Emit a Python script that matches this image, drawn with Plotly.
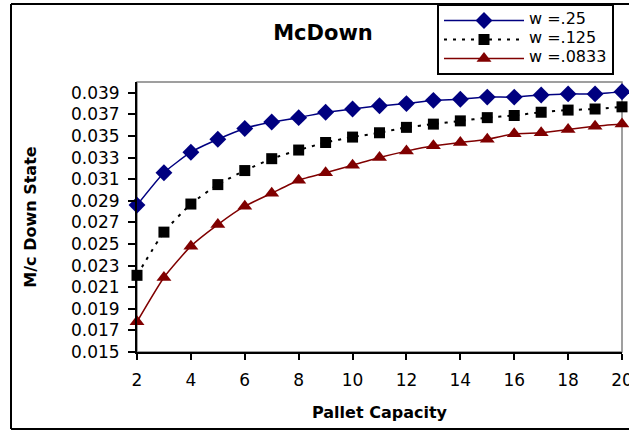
import plotly.graph_objects as go

capacity = list(range(2, 21))
w_025 = [0.0286, 0.0316, 0.0335, 0.0347, 0.0357, 0.0363, 0.0367, 0.0372, 0.0375, 0.0378,
         0.0380, 0.0383, 0.0384, 0.0386, 0.0386, 0.0388, 0.0389, 0.0389, 0.0391]
w_0125 = [0.0221, 0.0261, 0.0287, 0.0305, 0.0318, 0.0329, 0.0337, 0.0344, 0.0349, 0.0353,
          0.0358, 0.0361, 0.0364, 0.0367, 0.0369, 0.0372, 0.0374, 0.0375, 0.0377]
w_00833 = [0.0178, 0.0219, 0.0248, 0.0268, 0.0285, 0.0297, 0.0309, 0.0316, 0.0323, 0.0330,
           0.0336, 0.0341, 0.0344, 0.0347, 0.0352, 0.0353, 0.0356, 0.0359, 0.0361]
series_names = ["w =.25", "w =.125", "w =.0833"]
y_ticks = [0.015 + 0.002 * i for i in range(13)]
x_ticks = list(range(2, 21, 2))

FONT = "DejaVu Sans"


def legend_label(s):
    return f'<span style="font-size:16px">{s}</span>'


fig = go.Figure()
fig.add_trace(go.Scatter(
    x=capacity, y=w_025, name=legend_label(series_names[0]), mode="lines+markers",
    line=dict(color="#000080", width=1.5, shape="spline", smoothing=0.5),
    marker=dict(symbol="diamond", size=13, color="#000080"), cliponaxis=False))
fig.add_trace(go.Scatter(
    x=capacity, y=w_0125, name=legend_label(series_names[1]), mode="lines+markers",
    line=dict(color="black", width=2, dash="3px,6px", shape="spline", smoothing=0.5),
    marker=dict(symbol="square", size=11, color="black"), cliponaxis=False))
fig.add_trace(go.Scatter(
    x=capacity, y=w_00833, name=legend_label(series_names[2]), mode="lines+markers",
    line=dict(color="#800000", width=1.5, shape="spline", smoothing=0.5),
    marker=dict(symbol="triangle-up", size=13, color="#800000"), cliponaxis=False))

L, R, T, B = 137, 7, 82, 79
W, H = 629, 431
pw, ph = W - L - R, H - T - B

def px(x):
    return (x - L) / pw

def py(y):
    return (H - B - y) / ph

fx0, fx1, fy0, fy1 = px(11), px(629), py(429), py(4)
frame_lines = [
    dict(x0=fx0, x1=fx0, y0=fy0, y1=fy1),
    dict(x0=fx0, x1=fx1, y0=fy1, y1=fy1),
    dict(x0=fx0, x1=fx1, y0=fy0, y1=fy0),
]

shapes = [dict(type="rect", xref="paper", yref="paper", x0=0, x1=1, y0=0, y1=1,
               line=dict(color="#808080", width=1.5), layer="below")]
for fl in frame_lines:
    shapes.append(dict(type="line", xref="paper", yref="paper", layer="below",
                       line=dict(color="black", width=2), **fl))

fig.update_layout(
    width=W, height=H,
    margin=dict(l=L, r=R, t=T, b=B, autoexpand=False),
    paper_bgcolor="white", plot_bgcolor="white",
    font=dict(family=FONT, size=16, color="black"),
    title=dict(text="<b>McDown</b>", xref="container", x=323 / W, xanchor="center",
               y=1 - 33 / H, yanchor="middle",
               font=dict(family=FONT, size=21, color="black")),
    showlegend=True,
    legend=dict(x=px(437), y=py(4), xanchor="left", yanchor="top",
                bgcolor="white", bordercolor="black", borderwidth=2,
                font=dict(family=FONT, size=10, color="black"),
                itemwidth=80, tracegroupgap=0),
    xaxis=dict(range=[2, 20], tickvals=x_ticks, ticks="outside", ticklen=6, tickwidth=1.5,
               tickcolor="black", showline=True, linecolor="black", linewidth=2,
               showgrid=False, zeroline=False, ticklabeloverflow="allow",
               ticklabelstandoff=6, automargin=False,
               tickfont=dict(family=FONT, size=17),
               title=dict(text="<b>Pallet Capacity</b>", standoff=17,
                          font=dict(family=FONT, size=16))),
    yaxis=dict(range=[0.015, 0.040], tickvals=y_ticks, tickformat=".3f", ticks="outside",
               ticklen=7, tickwidth=1.5, tickcolor="black", showline=True, linecolor="black",
               linewidth=2, showgrid=False, zeroline=False, ticklabelstandoff=5,
               automargin=False,
               tickfont=dict(family=FONT, size=17),
               title=dict(text="<b>M/c Down State</b>", standoff=30,
                          font=dict(family=FONT, size=16))),
    shapes=shapes,
)

fig.write_html("out.html")
